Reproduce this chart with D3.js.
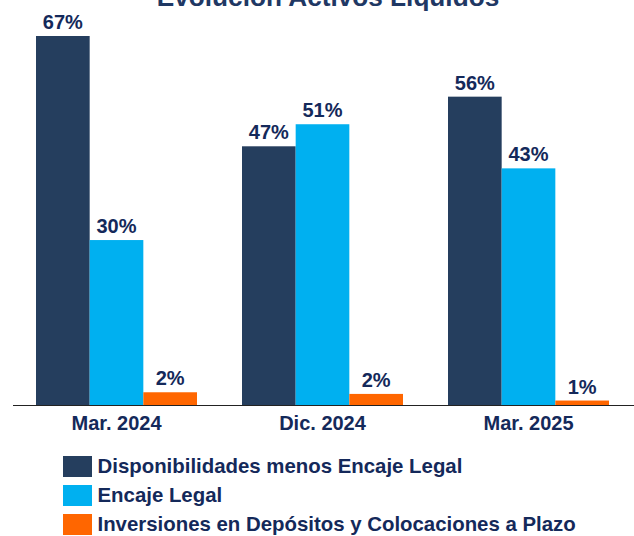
<!DOCTYPE html>
<html><head><meta charset="utf-8">
<script src="https://cdn.jsdelivr.net/npm/d3@7"></script>
<style>body{margin:0;background:#fff;}svg{display:block;font-family:"Liberation Sans",Arial,sans-serif;}</style>
</head><body>
<script>
const title = "Evolución Activos Líquidos";
const categories = ["Mar. 2024", "Dic. 2024", "Mar. 2025"];
const seriesNames = ["Disponibilidades menos Encaje Legal", "Encaje Legal", "Inversiones en Depósitos y Colocaciones a Plazo"];
const disponibilidades = [67, 47, 56];
const encaje = [30, 51, 43];
const inversiones = [2.4, 2.1, 0.9];
const labelsDisp = ["67%", "47%", "56%"];
const labelsEnc = ["30%", "51%", "43%"];
const labelsInv = ["2%", "2%", "1%"];
const colors = ["#253E5E", "#00B0F0", "#FF6600"];

const W = 634, H = 536;
const svg = d3.select("body").append("svg").attr("width", W).attr("height", H);
const textColor = "#14295A";

const series = [disponibilidades, encaje, inversiones];
const labels = [labelsDisp, labelsEnc, labelsInv];

const x0 = d3.scaleBand().domain(categories).range([13.5, 631.5]).padding(0);
const x1 = d3.scaleBand().domain(d3.range(3)).range([22.5, x0.bandwidth() - 22.5]).padding(0);
const y = d3.scaleLinear().domain([0, 67]).range([405.5, 36]);

svg.append("text").attr("x", 328).attr("y", 6).attr("text-anchor", "middle")
  .attr("font-size", 26.2).attr("font-weight", "bold").attr("fill", "#1F3864").text(title);

const g = svg.append("g");
categories.forEach((c, i) => {
  series.forEach((s, j) => {
    const bx = x0(c) + x1(j);
    g.append("rect").attr("x", bx).attr("y", y(s[i])).attr("width", x1.bandwidth())
      .attr("height", y(0) - y(s[i])).attr("fill", colors[j]);
    g.append("text").attr("x", bx + x1.bandwidth() / 2).attr("y", y(s[i]) - 7)
      .attr("text-anchor", "middle").attr("font-size", 20).attr("font-weight", "bold")
      .attr("fill", textColor).text(labels[j][i]);
  });
});

const xAxis = svg.append("g").attr("transform", "translate(0,405.5)")
  .call(d3.axisBottom(x0).tickSize(0).tickPadding(0));
xAxis.select(".domain").attr("d", "M13,0H634").attr("stroke", "#222").attr("stroke-width", 1.2);
xAxis.selectAll(".tick text").attr("y", 24.5).attr("dy", null).attr("font-size", 20)
  .attr("font-weight", "bold").attr("fill", textColor).attr("font-family", "Liberation Sans, Arial, sans-serif");

const leg = svg.append("g");
seriesNames.forEach((n, j) => {
  const ly = 456 + j * 29;
  leg.append("rect").attr("x", 63).attr("y", ly).attr("width", 29).attr("height", 21).attr("fill", colors[j]);
  leg.append("text").attr("x", 97.5).attr("y", ly + 17).attr("font-size", 20.4).attr("font-weight", "bold")
    .attr("fill", textColor).text(n);
});
</script>
</body></html>
